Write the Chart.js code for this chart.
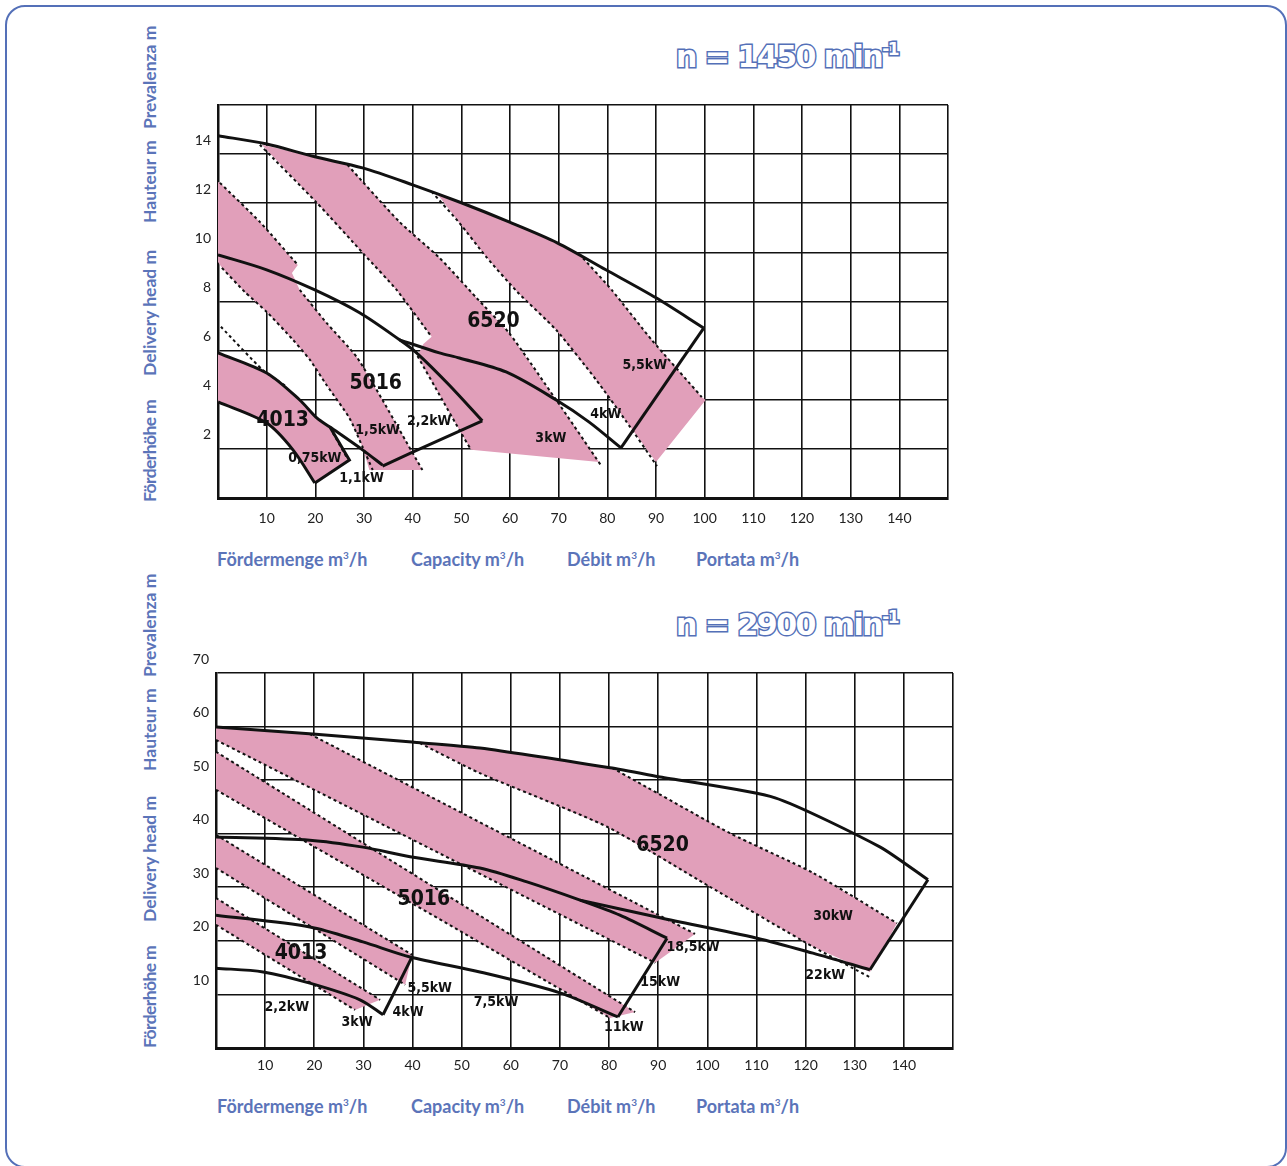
<!DOCTYPE html>
<html>
<head>
<meta charset="utf-8">
<script src="https://cdn.jsdelivr.net/npm/chart.js@4.4.1/dist/chart.umd.min.js"></script>
<style>
  body { margin: 0; background: #fff; width: 1287px; height: 1166px; position: relative; overflow: hidden; }
  .frame { position: absolute; left: 5px; top: 5px; width: 1282px; height: 1163px; border: 2.5px solid #5470b8; border-radius: 20px; box-sizing: border-box; }
  .wrap { position: absolute; }
  .ytitle { position: absolute; transform: rotate(-90deg); transform-origin: left top; white-space: nowrap;
            font: bold 17.5px Lato, "Open Sans", sans-serif; color: #5b74b9; line-height: 20px; }
  .xtitle { position: absolute; white-space: nowrap; font: bold 18px Lato, "Open Sans", sans-serif; color: #5b74b9; }
  .xtitle sup { font-size: 10px; }
  .head { position: absolute; white-space: nowrap; font: bold 30px "DejaVu Sans", sans-serif; letter-spacing: -1.5px;
          color: #fff; -webkit-text-stroke: 3px #5470b8; paint-order: stroke fill; }
  .head sup { font-size: 17px; vertical-align: 12px; }
</style>
</head>
<body>
<div class="frame"></div>

<div class="head" style="left:676px; top:39px;">n = 1450 min<sup>-1</sup></div>
<div class="head" style="left:676px; top:607px;">n = 2900 min<sup>-1</sup></div>

<div class="ytitle" style="left:140px; top:502px; letter-spacing:-0.6px;">Förderhöhe m</div>
<div class="ytitle" style="left:140px; top:376px;">Delivery head m</div>
<div class="ytitle" style="left:140px; top:223px;">Hauteur m</div>
<div class="ytitle" style="left:140px; top:129px;">Prevalenza m</div>

<div class="ytitle" style="left:140px; top:1048px; letter-spacing:-0.6px;">Förderhöhe m</div>
<div class="ytitle" style="left:140px; top:922px;">Delivery head m</div>
<div class="ytitle" style="left:140px; top:771px;">Hauteur m</div>
<div class="ytitle" style="left:140px; top:677px;">Prevalenza m</div>

<div class="xtitle" style="left:217px; top:548px;">Fördermenge m<sup>3</sup>/h</div>
<div class="xtitle" style="left:411px; top:548px;">Capacity m<sup>3</sup>/h</div>
<div class="xtitle" style="left:567px; top:548px;">Débit m<sup>3</sup>/h</div>
<div class="xtitle" style="left:696px; top:548px;">Portata m<sup>3</sup>/h</div>

<div class="xtitle" style="left:217px; top:1095px;">Fördermenge m<sup>3</sup>/h</div>
<div class="xtitle" style="left:411px; top:1095px;">Capacity m<sup>3</sup>/h</div>
<div class="xtitle" style="left:567px; top:1095px;">Débit m<sup>3</sup>/h</div>
<div class="xtitle" style="left:696px; top:1095px;">Portata m<sup>3</sup>/h</div>

<div class="wrap" style="left:160px; top:88px; width:800px; height:450px;"><canvas id="chart1"></canvas></div>
<div class="wrap" style="left:158px; top:640px; width:805px; height:450px;"><canvas id="chart2"></canvas></div>

<script>
// ---- n = 1450 min-1  (x = m3/h, y = m) ----
const lowMax6520 = [[0,14.75],[9.8,14.42],[19.9,13.89],[29.7,13.44],[40,12.75],[50,12.02],[59.8,11.24],[69.7,10.39],[79.7,9.29],[90,8.15],[99.8,6.92]];
const lowEdge6520 = [[99.8,6.92],[82.8,2.04]];
const lowMin6520 = [[37.3,6.44],[45.5,5.91],[49.6,5.70],[59.2,5.13],[69.5,3.99],[76.2,3.10],[82.8,2.04]];
const lowMax5016 = [[0,9.90],[10,9.29],[19.9,8.47],[29.1,7.54],[37.3,6.44],[40.8,5.91],[47.5,4.60],[54.3,3.14]];
const lowEdge5016 = [[54.3,3.14],[40,1.87],[33.8,1.30]];
const lowMin5016 = [[0,5.91],[10,5.09],[16.8,3.99],[20.3,3.26],[23,2.89],[29.7,1.96],[33.8,1.34]];
const lowEdge4013 = [[23,2.89],[27,1.55],[19.9,0.61]];
const lowMin4013 = [[0,3.91],[10,3.05],[15.4,1.96],[19.9,0.61]];

const lowBand6520a = [[9.0,14.38],[19.9,13.89],[26.6,13.56],[37.3,11.24],[45.5,9.78],[53.1,8.15],[59.8,6.72],[69.5,3.99],[78.3,1.47],
  [52.0,1.96],[49.6,2.77],[46.1,3.99],[41.0,5.78],[42.2,6.27],[43.9,6.56],[36.7,8.47],[30.1,9.90],[20.3,12.02],[9.0,14.38]];
const lowBand6520b = [[43.9,12.47],[50,12.02],[59.8,11.24],[69.7,10.39],[74.2,9.94],[80.9,8.47],[89.1,6.44],[99.4,4.11],[100.2,3.99],[90,1.47],
  [83.8,3.14],[77.7,4.81],[69.5,6.84],[61.5,8.39],[55.1,9.82],[49.6,11.20],[45.5,12.26],[43.9,12.47]];
const lowBand5016 = [[0,12.87],[0.4,12.83],[8.6,11.24],[16.4,9.49],[15.2,9.16],[16.8,8.47],[22.3,7.13],[28.5,5.74],[33.8,3.99],[37.3,2.77],[42.0,1.14],
  [31.1,1.14],[29.7,2.08],[27.0,3.26],[22.3,4.60],[18.9,5.62],[15.4,6.44],[10,7.58],[5.5,8.39],[0.8,9.37],[0,9.61],[0,12.87]];
const lowBand4013 = [[0,5.91],[10,5.09],[16.8,3.99],[20.3,3.26],[23,2.89],[27,1.55],[19.9,0.61],[15.4,1.96],[10,3.05],[0,3.91],[0,5.91]];

const lowDots = [
  [[0.4,12.83],[8.6,11.24],[16.4,9.49]],
  [[0.8,9.37],[5.5,8.39],[10,7.58],[15.4,6.44],[18.9,5.62],[22.3,4.60],[27,3.26],[29.7,2.08],[31.8,1.14]],
  [[16.8,8.47],[22.3,7.13],[28.5,5.74],[33.8,3.99],[37.3,2.77],[42.0,1.14]],
  [[0.6,6.97],[9.2,5.21],[14,4.55]],
  [[23.6,2.65],[26.4,1.67]],
  [[8.6,14.38],[20.3,12.02],[30.1,9.90],[36.7,8.47],[43.9,6.56]],
  [[41.0,5.78],[46.1,3.99],[49.6,2.77],[52.0,1.96]],
  [[26.6,13.56],[37.3,11.24],[45.5,9.78],[53.1,8.15],[59.8,6.72],[69.5,3.99],[78.8,1.3]],
  [[43.9,12.47],[49.6,11.20],[55.1,9.82],[61.5,8.39],[69.5,6.84],[77.7,4.81],[83.8,3.14],[90.2,1.3]],
  [[74.2,9.94],[80.9,8.47],[89.1,6.44],[99.4,4.11]]
];
const lowLabels = [
  ['6520',56.6,7.17,'big'],['5016',32.4,4.64,'big'],['4013',13.3,3.14,'big'],
  ['5,5kW',87.7,5.42],['4kW',79.7,3.42],['3kW',68.4,2.44],['2,2kW',43.4,3.14],
  ['1,5kW',32.8,2.77],['0,75kW',19.9,1.63],['1,1kW',29.5,0.81]
];

// ---- n = 2900 min-1 ----
const highMax6520 = [[0,59.9],[19.7,58.6],[39.9,57.1],[53.7,56.0],[80.2,52.3],[90.4,50.6],[113.8,46.7],[135.2,37.5],[144.9,31.4]];
const highEdge6520 = [[144.9,31.4],[133.1,14.6]];
const highMin6520 = [[74.1,27.6],[90.4,24.3],[110.1,20.5],[121.5,17.7],[133.1,14.6]];
const highMax5016 = [[0,39.4],[19.1,38.8],[29.9,37.5],[39.5,35.7],[53.7,33.6],[63.3,31.0],[74.1,27.6],[82.2,24.8],[91.8,20.5]];
const highEdge5016 = [[91.8,20.5],[81.8,5.8]];
const highMin5016 = [[0,24.8],[19.1,22.6],[29.9,19.8],[39.5,17.0],[53.7,14.2],[70.0,10.3],[81.8,5.8]];
const highEdge4013 = [[39.9,17.0],[34.0,6.2]];
const highMin4013 = [[0,14.9],[9.6,14.2],[19.1,12.1],[29.3,9.0],[34.0,6.2]];

const highBand1 = [[0,59.9],[19.1,58.6],[97.5,21.3],[89.4,15.9],[0,57.5],[0,59.9]];
const highBand2 = [[0,55.3],[85.3,6.7],[80.2,5.6],[0,48.2],[0,55.3]];
const highBand3 = [[0,39.8],[39.9,17.4],[38.5,11.8],[0,33.6],[0,39.8]];
const highBand4 = [[0,28.0],[33.4,9.0],[28.3,7.1],[0,23.0],[0,28.0]];
const highBand6520 = [[42.5,56.6],[53.7,56.0],[80.6,52.3],[85.7,49.7],[104.6,40.1],[121.5,32.7],[138.6,23.3],[133.1,14.2],
  [121.5,18.9],[100.5,30.1],[79.6,41.3],[53.7,51.3],[41.5,56.9],[42.5,56.6]];

const highDots = [
  [[19.1,58.6],[97.5,21.3]], [[0,57.5],[89.4,15.9]],
  [[0,55.3],[85.3,6.7]], [[0,48.2],[80.2,5.6]],
  [[0,39.8],[39.9,17.4]], [[0,33.6],[38.5,11.8]],
  [[0,28.0],[33.4,9.0]], [[0,23.0],[28.3,7.1]],
  [[80.6,52.3],[85.7,49.7],[104.6,40.1],[121.5,32.7],[138.6,23.3]],
  [[41.5,56.9],[53.7,51.3],[79.6,41.3],[100.5,30.1],[121.5,18.9],[133.1,13.2]]
];
const highLabels = [
  ['6520',90.9,37.7,'big'],['5016',42.3,27.8,'big'],['4013',17.3,17.6,'big'],
  ['30kW',125.6,24.5],['22kW',124.0,13.6],['18,5kW',97.1,18.7],['15kW',90.4,12.3],['11kW',83.0,3.9],
  ['7,5kW',57.0,8.6],['5,5kW',43.5,11.2],['4kW',39.1,6.7],['3kW',28.7,4.8],['2,2kW',14.4,7.5]
];

const PINK = '#e19fba';
const pts = arr => arr.map(p => ({x: p[0], y: p[1]}));

function curve(arr, tension) {
  return {data: pts(arr), showLine: true, pointRadius: 0, borderColor: '#111', borderWidth: 3,
          fill: false, tension: tension, order: 0};
}
function band(arr) {
  return {data: pts(arr), showLine: true, pointRadius: 0, borderColor: 'rgba(0,0,0,0)', borderWidth: 0,
          backgroundColor: PINK, fill: 'shape', tension: 0, order: 3};
}
function dots(arr) {
  return {data: pts(arr), showLine: true, pointRadius: 0, borderColor: '#111', borderWidth: 2,
          borderDash: [3, 3], fill: false, tension: 0.2, order: 1};
}

function labelPlugin(items) {
  return {
    id: 'curveLabels',
    afterDraw(chart) {
      const ctx = chart.ctx, xs = chart.scales.x, ys = chart.scales.y;
      ctx.save();
      ctx.fillStyle = '#111';
      ctx.textAlign = 'center';
      ctx.textBaseline = 'middle';
      items.forEach(l => {
        ctx.font = l[3] === 'big' ? 'bold 21px "DejaVu Sans Condensed", "DejaVu Sans", sans-serif'
                                  : 'bold 14px "DejaVu Sans Condensed", "DejaVu Sans", sans-serif';
        ctx.fillText(l[0], xs.getPixelForValue(l[1]), ys.getPixelForValue(l[2]));
      });
      ctx.restore();
    }
  };
}

function makeChart(el, datasets, yMax, yStep, showTop, padding, xPad, items) {
  return new Chart(el, {
    type: 'scatter',
    data: {datasets: datasets},
    options: {
      responsive: true,
      maintainAspectRatio: false,
      animation: false,
      layout: {padding: padding},
      plugins: {legend: {display: false}, tooltip: {enabled: false}},
      scales: {
        x: {
          type: 'linear', min: 0, max: 150, z: 1,
          grid: {color: '#111', lineWidth: 1.6, drawTicks: false},
          border: {color: '#111', width: 3},
          ticks: {stepSize: 10, padding: xPad, color: '#222', font: {family: 'Lato', size: 14},
                  callback: v => (v === 0 || v === 150) ? '' : v},
          afterFit: s => { s.height = 30; }
        },
        y: {
          type: 'linear', min: 0, max: yMax, z: 1,
          grid: {color: '#111', lineWidth: 1.6, drawTicks: false},
          border: {color: '#111', width: 2.5},
          ticks: {stepSize: yStep, padding: 7, labelOffset: -14, color: '#222', font: {family: 'Lato', size: 14},
                  callback: v => (v === 0 || (v === yMax && !showTop)) ? '' : v},
          afterFit: s => { s.width = 58; }
        }
      }
    },
    plugins: [labelPlugin(items)]
  });
}

const ds1 = [
  band(lowBand6520a), band(lowBand6520b), band(lowBand5016), band(lowBand4013),
  ...lowDots.map(dots),
  curve(lowMax6520, 0.3), curve(lowEdge6520, 0), curve(lowMin6520, 0.3),
  curve(lowMax5016, 0.3), curve(lowEdge5016, 0), curve(lowMin5016, 0.3),
  curve(lowEdge4013, 0), curve(lowMin4013, 0.3)
];
const ds2 = [
  band(highBand1), band(highBand2), band(highBand3), band(highBand4), band(highBand6520),
  ...highDots.map(dots),
  curve(highMax6520, 0.2), curve(highEdge6520, 0), curve(highMin6520, 0.3),
  curve(highMax5016, 0.3), curve(highEdge5016, 0), curve(highMin5016, 0.3),
  curve(highEdge4013, 0), curve(highMin4013, 0.3)
];

makeChart(document.getElementById('chart1'), ds1, 16, 2, false, {top: 17, right: 10, bottom: 10, left: 0}, 12, lowLabels);
makeChart(document.getElementById('chart2'), ds2, 70, 10, true, {top: 33, right: 10, bottom: 12, left: 0}, 9, highLabels);
</script>
</body>
</html>
